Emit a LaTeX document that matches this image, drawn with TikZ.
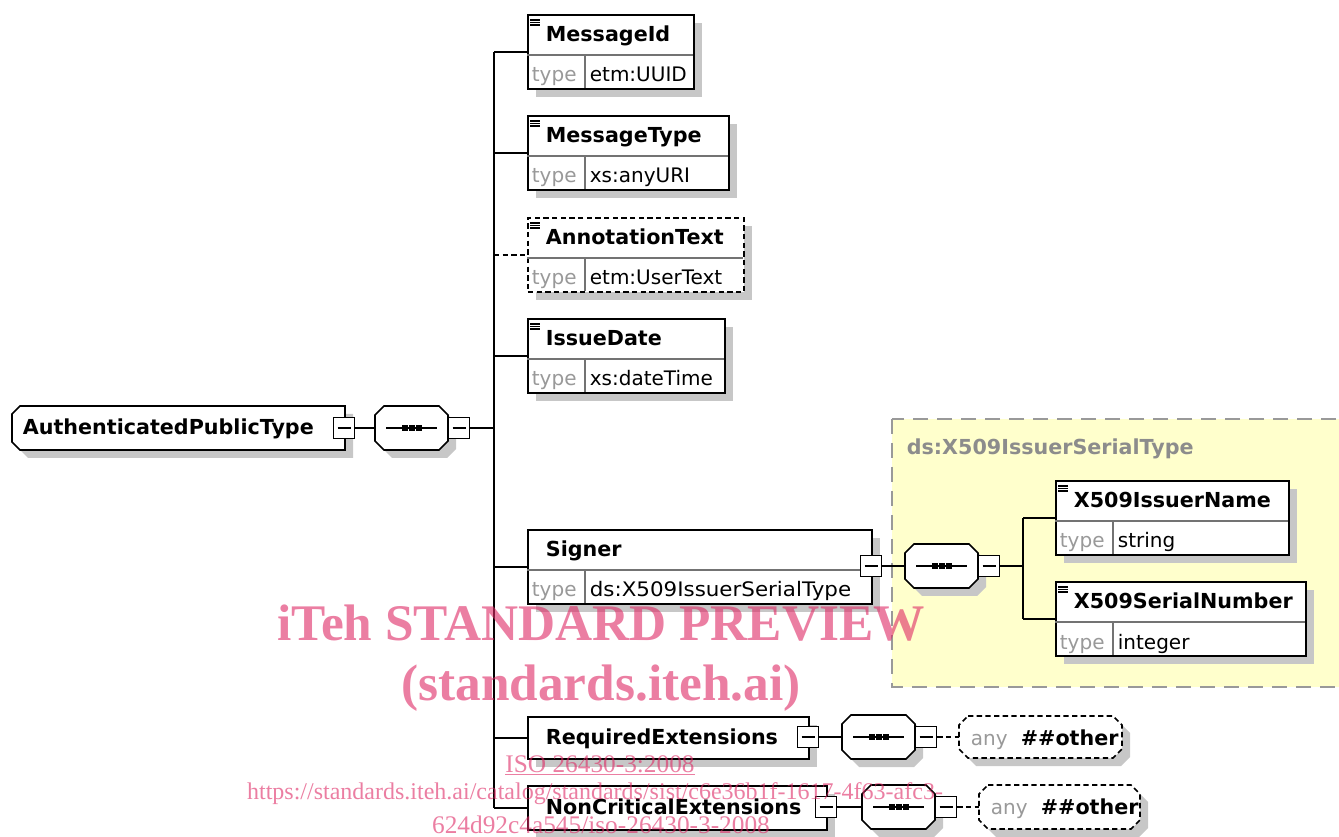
\documentclass[tikz,border=0pt]{standalone}
\usepackage{fontspec}
\setmainfont{DejaVu Sans}
\newfontfamily\wmfont{Liberation Serif}
\usetikzlibrary{shadows}

\definecolor{wmpink}{RGB}{222,40,100}
\definecolor{typebg}{RGB}{255,255,204}

% element with a title row and a type row
\newcommand{\xsdelem}[7][]{%
  \node[elem,#1,minimum width=#5*0.75pt] (#2) at (#3,#4) {};
  \draw[divider] (#3,#4+41) -- (#3+#5,#4+41) (#3+58,#4+41) -- (#3+58,#4+74);
  \node[elname] (#2-t) at (#3+18,#4+28) {#6};
  \node[eltype] (#2-k) at (#3+4,#4+68) {type};
  \node[elval] (#2-v) at (#3+62,#4+68) {#7};
}
% octagon frame (compositor, wildcard)
\newcommand{\octbox}[6][]{%
  \draw[box,#1] (#3+9,#4) -- (#5-9,#4) -- (#5,#4+9) -- (#5,#6-9) -- (#5-9,#6) -- (#3+9,#6) -- (#3,#6-9) -- (#3,#4+9) -- cycle;
  \node[holder,minimum width=(#5-#3)*0.75pt,minimum height=(#6-#4)*0.75pt] (#2) at ({(#3+#5)/2},{(#4+#6)/2}) {};
}
\newcommand{\seqdots}[1]{%
  \draw[line width=1.1pt] ([xshift=-19pt]#1.center) -- ([xshift=19pt]#1.center);
  \foreach \d in {-5.25,0,5.25} {\fill ([xshift=\d pt]#1.center) +(-3,-3) rectangle +(3,3);}
}
\newcommand{\elicon}[1]{%
  \draw[line width=.8pt] ([shift={(3,6)}]#1.north west) -- +(10,0) ++(0,2.5) -- +(10,0) ++(0,2.5) -- +(10,0);
}

\begin{document}
\begin{tikzpicture}[x=0.75pt,y=-0.75pt,line width=1.3pt,
  boxshadow/.style={drop shadow={shadow xshift=6pt,shadow yshift=-6pt,opacity=1,fill=black!22}},
  box/.style={draw=black,fill=white,boxshadow},
  elem/.style={box,rectangle,anchor=north west,inner sep=0pt,minimum height=55.5pt},
  holder/.style={inner sep=0pt,outer sep=0pt},
  divider/.style={line width=.8pt,black!55},
  collapse/.style={draw,fill=white,inner sep=0pt,minimum size=15.75pt,line width=1.1pt,
    path picture={\draw[line width=1.1pt] ([xshift=3pt]path picture bounding box.west) -- ([xshift=-3pt]path picture bounding box.east);}},
  elname/.style={anchor=base west,inner sep=0pt,font=\fontsize{15.5}{18}\selectfont\bfseries},
  eltype/.style={anchor=base west,inner sep=0pt,text=black!40,font=\fontsize{15}{18}\selectfont},
  elval/.style={anchor=base west,inner sep=0pt,font=\fontsize{15}{18}\selectfont},
  optional/.style={dash pattern=on 4pt off 2.5pt},
  wm/.style={anchor=base,inner sep=0pt,text=wmpink,text opacity=.6}]

\useasboundingbox (0,0) rectangle (1339,837);

% complex type area
\draw[fill=typebg,draw=black!40,dash pattern=on 11pt off 7pt] (892,419) rectangle (1350,687);
\node[elname,text=black!45] (dsType) at (906,455) {ds:X509IssuerSerialType};

% root
\draw[box] (20,406) -- (345,406) -- (345,450) -- (20,450) -- (12,442) -- (12,414) -- cycle;
\node[holder,minimum width=333*0.75pt,minimum height=44*0.75pt] (apt) at (178.5,428) {};
\node[elname] (apt-t) at (22,435) {AuthenticatedPublicType};
\node[collapse] (apt-m) at (344,428) {};

\octbox{seq0}{375}{406}{448}{450}
\seqdots{seq0}
\node[collapse] (seq0-m) at (459,428) {};
\draw (apt-m) -- (seq0);
\coordinate (trunk) at (494,428);
\draw (seq0-m) -- (trunk);

% children
\xsdelem{msgid}{527}{14}{166}{MessageId}{etm:UUID}
\xsdelem{msgtype}{527}{115}{201}{MessageType}{xs:anyURI}
\xsdelem[optional]{annot}{527}{217}{216}{AnnotationText}{etm:UserText}
\xsdelem{issue}{527}{318}{197}{IssueDate}{xs:dateTime}
\xsdelem{signer}{527}{529}{344}{Signer}{\scalebox{1.07}[1]{ds:X509IssuerSerialType}}
\xsdelem{issuer}{1055}{480}{233}{X509IssuerName}{string}
\xsdelem{serial}{1055}{581}{250}{X509SerialNumber}{integer}
\foreach \e in {msgid,msgtype,annot,issue,issuer,serial} {\elicon{\e}}

\node[elem,minimum width=281*0.75pt,minimum height=42*0.75pt] (reqext) at (527,716) {};
\node[elname] (reqext-t) at (545,744) {RequiredExtensions};
\node[elem,minimum width=299*0.75pt,minimum height=44*0.75pt] (noncrit) at (527,785) {};
\node[elname] (noncrit-t) at (545,814) {NonCriticalExtensions};

\draw (trunk |- msgid.west) -- (trunk |- noncrit.west);
\foreach \e in {msgid,msgtype,issue,signer,reqext,noncrit} {\draw (trunk |- \e.west) -- (\e.west);}
\draw[optional] (trunk |- annot.west) -- (annot.west);

% signer content
\node[collapse] (signer-m) at (871,566) {};
\octbox{seq1}{905}{544}{978}{588}
\seqdots{seq1}
\node[collapse] (seq1-m) at (989,566) {};
\draw (signer-m) -- (seq1);
\coordinate (trunk1) at (1023,566);
\draw (seq1-m) -- (trunk1);
\draw (trunk1 |- issuer.west) -- (trunk1 |- serial.west);
\foreach \e in {issuer,serial} {\draw (trunk1 |- \e.west) -- (\e.west);}

% extensions
\node[collapse] (reqext-m) at (808,737) {};
\octbox{seq2}{842}{715}{915}{759}
\seqdots{seq2}
\node[collapse] (seq2-m) at (926,737) {};
\octbox[optional]{any2}{959}{716}{1122}{758}
\node[eltype] (any2-k) at (970,745) {any};
\node[elname] (any2-t) at (1020,745) {\#\#other};
\draw (reqext-m) -- (seq2);
\draw[optional] (seq2-m) -- (any2);

\node[collapse] (noncrit-m) at (826,807) {};
\octbox{seq3}{862}{785}{935}{829}
\seqdots{seq3}
\node[collapse] (seq3-m) at (946,807) {};
\octbox[optional]{any3}{979}{785}{1140}{829}
\node[eltype] (any3-k) at (990,814) {any};
\node[elname] (any3-t) at (1040,814) {\#\#other};
\draw (noncrit-m) -- (seq3);
\draw[optional] (seq3-m) -- (any3);

% watermark
\node[wm,font=\wmfont\bfseries\fontsize{38.5}{40}\selectfont] (wm1) at (601,640) {iTeh STANDARD PREVIEW};
\node[wm,font=\wmfont\bfseries\fontsize{38.5}{40}\selectfont] (wm2) at (601,700) {(standards.iteh.ai)};
\node[wm,font=\wmfont\fontsize{19}{21}\selectfont] (wm3) at (600,772) {\underline{ISO 26430-3:2008}};
\node[wm,font=\wmfont\fontsize{18}{21}\selectfont] (wm4) at (595,799) {https://standards.iteh.ai/catalog/standards/sist/c6e36b1f-1617-4f63-afc3-};
\node[wm,font=\wmfont\fontsize{19}{21}\selectfont] (wm5) at (601,833) {624d92c4a545/iso-26430-3-2008};
\end{tikzpicture}
\end{document}
